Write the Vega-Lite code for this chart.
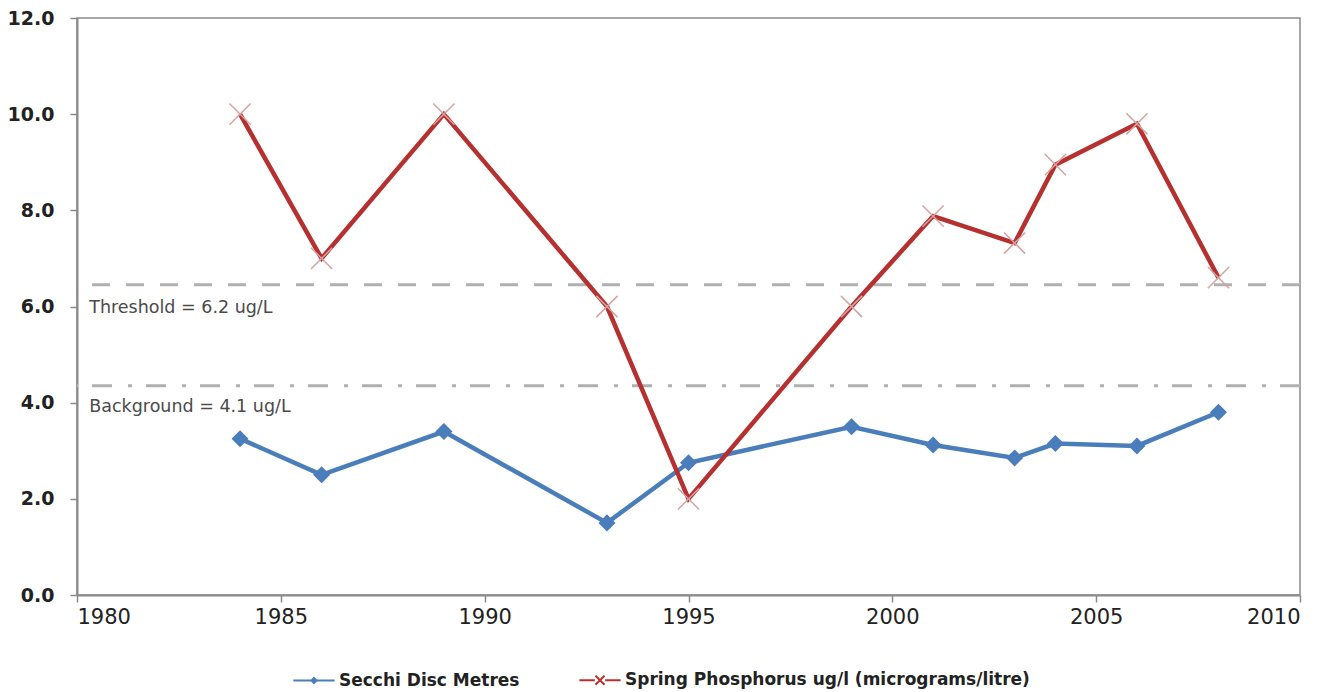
{
  "$schema": "https://vega.github.io/schema/vega-lite/v6.json",
  "autosize": {"type": "none"},
  "padding": {"left": 77, "top": 18, "right": 43, "bottom": 97},
  "width": 1223,
  "height": 577,
  "background": "white",
  "config": {
    "font": "DejaVu Sans",
    "view": {"stroke": "#8a8a8a", "strokeWidth": 1.5},
    "axis": {"grid": false, "domainColor": "#8a8a8a", "domainWidth": 2, "tickColor": "#8a8a8a", "tickWidth": 1.5, "tickSize": 7, "labelColor": "#222222", "labelFont": "DejaVu Sans", "title": null}
  },
  "datasets": {
    "series": [
      {"year": 1984, "value": 3.25, "series": "Secchi Disc Metres"},
      {"year": 1986, "value": 2.5, "series": "Secchi Disc Metres"},
      {"year": 1989, "value": 3.4, "series": "Secchi Disc Metres"},
      {"year": 1993, "value": 1.5, "series": "Secchi Disc Metres"},
      {"year": 1995, "value": 2.75, "series": "Secchi Disc Metres"},
      {"year": 1999, "value": 3.5, "series": "Secchi Disc Metres"},
      {"year": 2001, "value": 3.12, "series": "Secchi Disc Metres"},
      {"year": 2003, "value": 2.85, "series": "Secchi Disc Metres"},
      {"year": 2004, "value": 3.15, "series": "Secchi Disc Metres"},
      {"year": 2006, "value": 3.1, "series": "Secchi Disc Metres"},
      {"year": 2008, "value": 3.8, "series": "Secchi Disc Metres"},
      {"year": 1984, "value": 10.0, "series": "Spring Phosphorus ug/l (micrograms/litre)"},
      {"year": 1986, "value": 7.0, "series": "Spring Phosphorus ug/l (micrograms/litre)"},
      {"year": 1989, "value": 10.0, "series": "Spring Phosphorus ug/l (micrograms/litre)"},
      {"year": 1993, "value": 6.0, "series": "Spring Phosphorus ug/l (micrograms/litre)"},
      {"year": 1995, "value": 2.0, "series": "Spring Phosphorus ug/l (micrograms/litre)"},
      {"year": 1999, "value": 6.0, "series": "Spring Phosphorus ug/l (micrograms/litre)"},
      {"year": 2001, "value": 7.88, "series": "Spring Phosphorus ug/l (micrograms/litre)"},
      {"year": 2003, "value": 7.32, "series": "Spring Phosphorus ug/l (micrograms/litre)"},
      {"year": 2004, "value": 8.95, "series": "Spring Phosphorus ug/l (micrograms/litre)"},
      {"year": 2006, "value": 9.8, "series": "Spring Phosphorus ug/l (micrograms/litre)"},
      {"year": 2008, "value": 6.6, "series": "Spring Phosphorus ug/l (micrograms/litre)"}
    ],
    "refs": [
      {"level": 6.45, "name": "Threshold"},
      {"level": 4.35, "name": "Background"}
    ],
    "labels": [
      {"x": 1980.3, "y": 5.97, "label": "Threshold = 6.2 ug/L"},
      {"x": 1980.3, "y": 3.92, "label": "Background = 4.1 ug/L"}
    ]
  },
  "layer": [
    {
      "data": {"name": "refs"},
      "transform": [{"filter": "datum.name === 'Threshold'"}],
      "mark": {"type": "rule", "color": "#b0b0b0", "strokeWidth": 3, "strokeDash": [18, 16]},
      "encoding": {"y": {"field": "level", "type": "quantitative", "scale": {"domain": [0, 12], "nice": false}}}
    },
    {
      "data": {"name": "refs"},
      "transform": [{"filter": "datum.name === 'Background'"}],
      "mark": {"type": "rule", "color": "#b0b0b0", "strokeWidth": 3, "strokeDash": [20, 14, 4, 16]},
      "encoding": {"y": {"field": "level", "type": "quantitative"}}
    },
    {
      "data": {"name": "labels"},
      "mark": {"type": "text", "align": "left", "baseline": "middle", "fontSize": 17.5, "color": "#4a4a4a", "font": "DejaVu Sans"},
      "encoding": {
        "x": {"field": "x", "type": "quantitative"},
        "y": {"field": "y", "type": "quantitative"},
        "text": {"field": "label"}
      }
    },
    {
      "data": {"name": "series"},
      "mark": {"type": "line", "strokeWidth": 4.5},
      "encoding": {
        "x": {"field": "year", "type": "quantitative", "scale": {"domain": [1980, 2010], "nice": false, "zero": false},
              "axis": {"values": [1980, 1985, 1990, 1995, 2000, 2005, 2010], "format": "d", "labelPadding": 4, "labelFontSize": 21}},
        "y": {"field": "value", "type": "quantitative",
              "axis": {"values": [0, 2, 4, 6, 8, 10, 12], "format": ".1f", "labelPadding": 16, "labelFontSize": 19, "labelFontWeight": "bold"}},
        "color": {"field": "series", "type": "nominal",
                  "scale": {"domain": ["Secchi Disc Metres", "Spring Phosphorus ug/l (micrograms/litre)"], "range": ["#4a7ebb", "#b5302f"]},
                  "legend": {"orient": "none", "legendX": 215, "legendY": 640, "direction": "horizontal", "title": null,
                             "symbolType": "M-1,0L1,0M-0.12,0L0,-0.12L0.12,0L0,0.12Z", "symbolStrokeWidth": 2, "symbolSize": 1700,
                             "labelFont": "DejaVu Sans", "labelFontSize": 17, "labelFontWeight": "bold", "labelColor": "#222222",
                             "labelOffset": 3, "columnPadding": 55, "labelLimit": 600,
                             "encode": {"symbols": {"update": {"shape": {"signal": "datum.value === 'Secchi Disc Metres' ? 'M-1,0L1,0M-0.12,0L0,-0.12L0.12,0L0,0.12Z' : 'M-1,0L-0.25,0M0.25,0L1,0M-0.22,-0.22L0.22,0.22M0.22,-0.22L-0.22,0.22'"}}}}}}
      }
    },
    {
      "data": {"name": "series"},
      "transform": [{"filter": "datum.series === 'Secchi Disc Metres'"}],
      "mark": {"type": "point", "shape": "diamond", "filled": true, "color": "#4a7ebb", "size": 290, "opacity": 1},
      "encoding": {
        "x": {"field": "year", "type": "quantitative"},
        "y": {"field": "value", "type": "quantitative"}
      }
    },
    {
      "data": {"name": "series"},
      "transform": [{"filter": "datum.series !== 'Secchi Disc Metres'"}],
      "mark": {"type": "point", "shape": "M-1,-1L1,1M1,-1L-1,1", "filled": false, "stroke": "#d4a3a3", "strokeWidth": 1.5, "size": 450, "opacity": 1},
      "encoding": {
        "x": {"field": "year", "type": "quantitative"},
        "y": {"field": "value", "type": "quantitative"}
      }
    }
  ]
}
